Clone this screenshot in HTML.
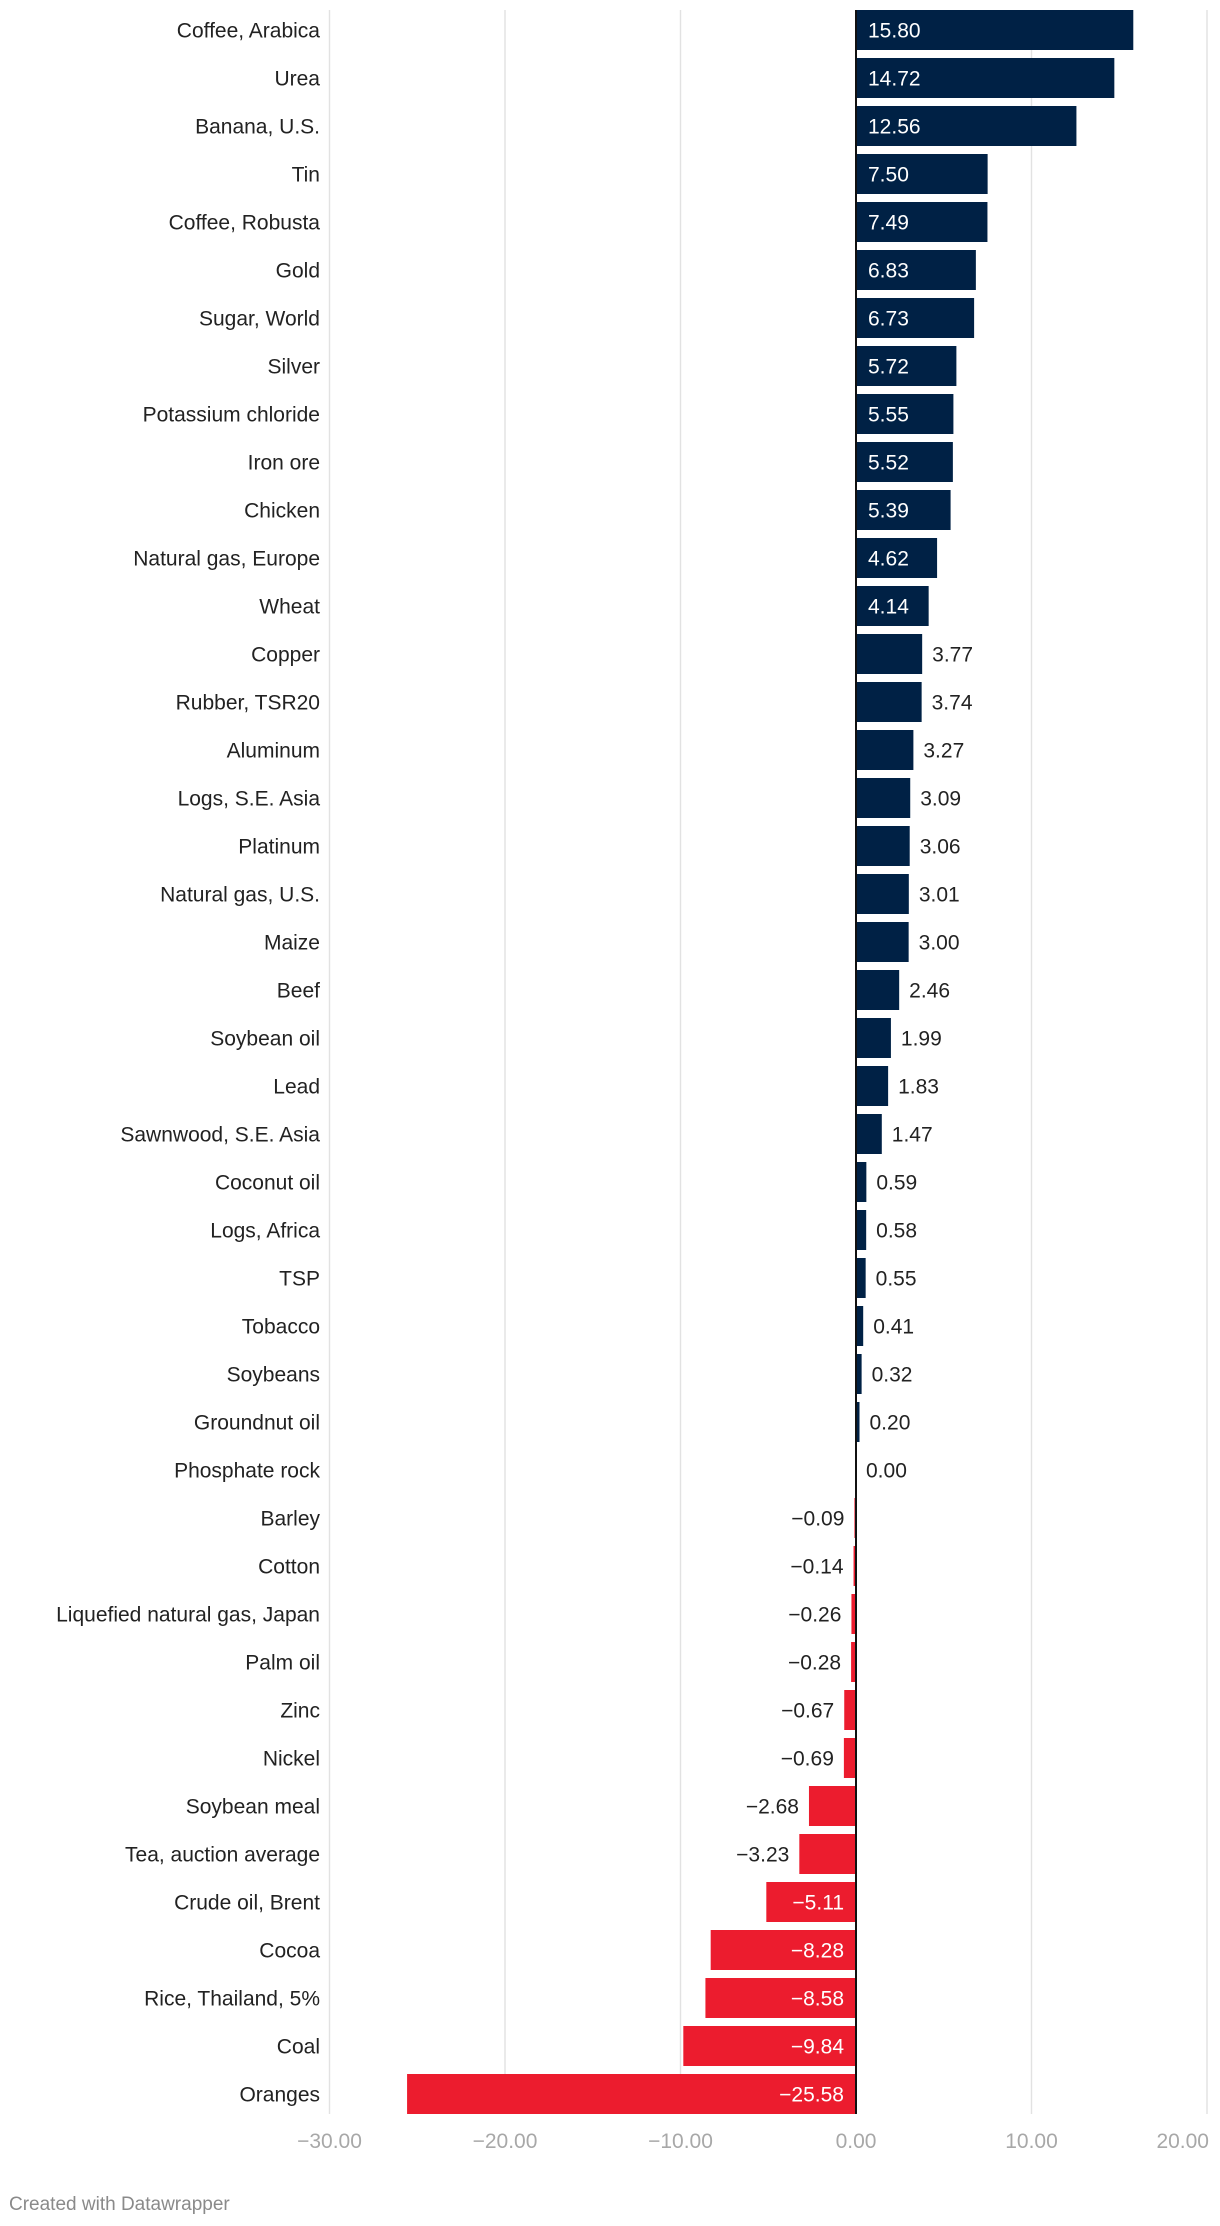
<!DOCTYPE html>
<html><head><meta charset="utf-8"><style>
html,body{margin:0;padding:0;background:#fff;width:1220px;height:2226px;overflow:hidden}
svg{display:block;font-family:"Liberation Sans",Arial,sans-serif}
</style></head><body>
<svg id="chart" width="1220" height="2226" viewBox="0 0 1220 2226"></svg>
<script>
const categories=["Coffee, Arabica","Urea","Banana, U.S.","Tin","Coffee, Robusta","Gold","Sugar, World","Silver","Potassium chloride","Iron ore","Chicken","Natural gas, Europe","Wheat","Copper","Rubber, TSR20","Aluminum","Logs, S.E. Asia","Platinum","Natural gas, U.S.","Maize","Beef","Soybean oil","Lead","Sawnwood, S.E. Asia","Coconut oil","Logs, Africa","TSP","Tobacco","Soybeans","Groundnut oil","Phosphate rock","Barley","Cotton","Liquefied natural gas, Japan","Palm oil","Zinc","Nickel","Soybean meal","Tea, auction average","Crude oil, Brent","Cocoa","Rice, Thailand, 5%","Coal","Oranges"];
const values=[15.80,14.72,12.56,7.50,7.49,6.83,6.73,5.72,5.55,5.52,5.39,4.62,4.14,3.77,3.74,3.27,3.09,3.06,3.01,3.00,2.46,1.99,1.83,1.47,0.59,0.58,0.55,0.41,0.32,0.20,0.00,-0.09,-0.14,-0.26,-0.28,-0.67,-0.69,-2.68,-3.23,-5.11,-8.28,-8.58,-9.84,-25.58];
const ticks=[-30,-20,-10,0,10,20];
const NS="http://www.w3.org/2000/svg";
const svgEl=document.getElementById('chart');
const x0=856, ppu=17.55, plotTop=10, pitch=48, bh=40;
const xs=v=>x0+v*ppu;
const ys=i=>plotTop+i*pitch;
const plotBottom=ys(categories.length-1)+bh;
function el(t,a){const e=document.createElementNS(NS,t);for(const k in a)e.setAttribute(k,a[k]);svgEl.appendChild(e);return e;}
const fmt=v=>(v<0?"\u2212":"")+Math.abs(v).toFixed(2);
ticks.forEach((t,k)=>{
  const g=el('line',{x1:xs(t),x2:xs(t),y1:plotTop,y2:plotBottom,stroke:'#e2e2e2','stroke-width':1.4});
  
  
  const last=k===ticks.length-1 && xs(t)+32>1220;
  const tl=el('text',{x:last?xs(t)+2:xs(t),y:2148,'text-anchor':last?'end':'middle','font-size':21,fill:'#a8a8a8'});
  tl.textContent=t.toFixed(2).replace('-','\u2212');
  
  
});
categories.forEach((c,i)=>{
  const v=values[i], y=ys(i);
  const lab=el('text',{x:320,y:y+bh/2+7.5,'text-anchor':'end','font-size':21,fill:'#222'});
  lab.textContent=c;
  
  
  const w=Math.abs(v)*ppu;
  const r=el('rect',{x:v>=0?x0:xs(v),y:y,width:w,height:bh,fill:v>=0?'#002145':'#ec1c2e'});
  
  
  let vx,anchor,col;
  if(v>=4||v<=-5){col='#fff';if(v>0){vx=x0+12;anchor='start';}else{vx=x0-12;anchor='end';}}
  else{col='#222';if(v>=0){vx=xs(v)+10;anchor='start';}else{vx=xs(v)-10;anchor='end';}}
  const t=el('text',{x:vx,y:y+bh/2+7.5,'text-anchor':anchor,'font-size':21,fill:col});
  t.textContent=fmt(v);
  
  
});
const z=el('line',{x1:x0,x2:x0,y1:plotTop,y2:plotBottom,stroke:'#111','stroke-width':2});


const f=el('text',{x:9,y:2210,'font-size':19,fill:'#8a8a8a'});
f.textContent='Created with Datawrapper';


</script>
</body></html>
